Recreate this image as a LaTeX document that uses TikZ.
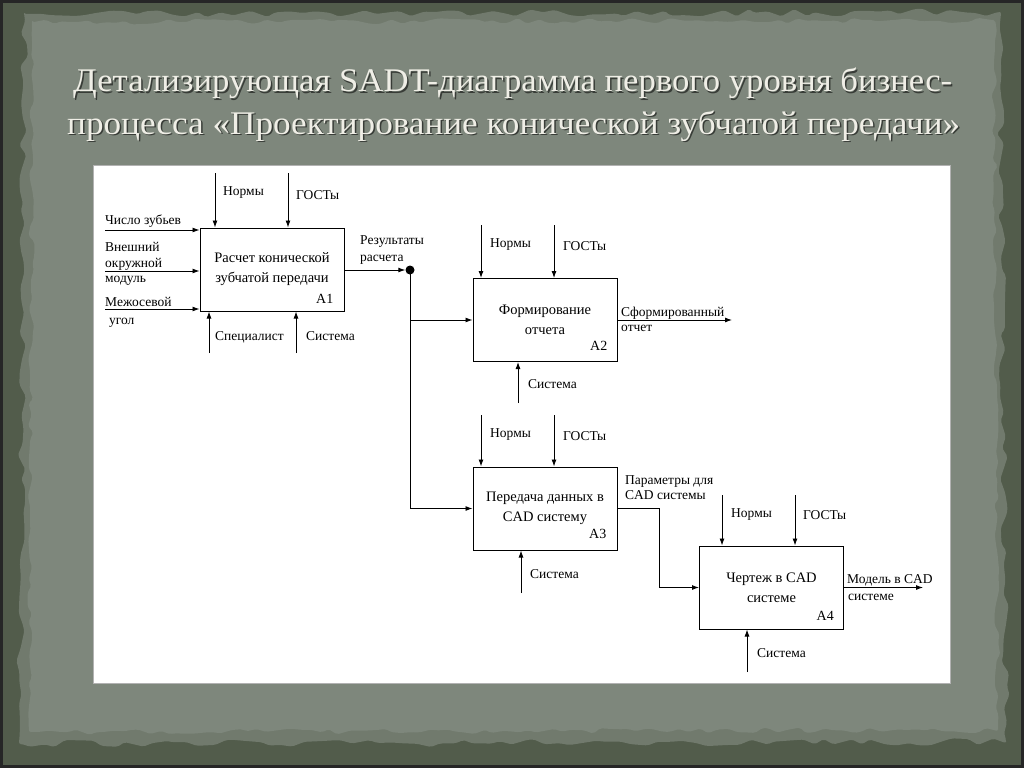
\documentclass[tikz,border=0pt]{standalone}
\usepackage{fontspec}
\setmainfont{Liberation Serif}
\usetikzlibrary{arrows.meta,calc,decorations.pathmorphing}
\definecolor{outerbg}{HTML}{525C4B}
\definecolor{innerbg}{HTML}{7E877C}
\definecolor{titlecol}{HTML}{EFEEE6}
\begin{document}
\begin{tikzpicture}[x=1pt,y=-1pt,
  box/.style={draw, line width=1pt, minimum width=144pt, minimum height=83pt, inner sep=0pt,
    font=\fontsize{14.5}{20}\selectfont, align=center},
  lbl/.style={anchor=base west, inner sep=0pt, font=\fontsize{13.5}{16}\selectfont},
  code/.style={anchor=base east, inner sep=0pt, font=\fontsize{14}{16}\selectfont},
  arr/.style={line width=0.9pt, -{Latex[length=7pt,width=5pt]}},
  ttl/.style={anchor=base west, inner sep=0pt, text=titlecol},
  shd/.style={anchor=base west, inner sep=0pt, text=black, opacity=0.55},
]
\useasboundingbox (0,0) rectangle (1024,768);
\pgfmathsetseed{11}
% background
\fill[outerbg] (0,0) rectangle (1024,768);
\fill[innerbg!70!outerbg, rounded corners=2pt, decorate, decoration={random steps, segment length=12pt, amplitude=4pt}]
  (24,14) -- (1000,12) -- (1006,742) -- (20,744) -- cycle;
\fill[innerbg, rounded corners=2pt, decorate, decoration={random steps, segment length=9pt, amplitude=3pt}]
  (32,22) -- (994,20) -- (998,730) -- (30,732) -- cycle;
\draw[black!85, line width=3pt] (1.5,1.5) rectangle (1022.5,766.5);
% title
\node[shd] at (74.5,93.5) {\resizebox{879pt}{\height}{\fontsize{33}{40}\selectfont Детализирующая SADT-диаграмма первого уровня бизнес-}};
\node[ttl] (t1) at (73,92) {\resizebox{879pt}{\height}{\fontsize{33}{40}\selectfont Детализирующая SADT-диаграмма первого уровня бизнес-}};
\node[shd] at (68.5,135.5) {\resizebox{893pt}{\height}{\fontsize{33}{40}\selectfont процесса «Проектирование конической зубчатой передачи»}};
\node[ttl] (t2) at (67,134) {\resizebox{893pt}{\height}{\fontsize{33}{40}\selectfont процесса «Проектирование конической зубчатой передачи»}};
% white panel
\fill[white] (93,165) rectangle (950,683);
\draw[gray!60, line width=0.6pt] (93,165) rectangle (950,683);
% boxes
\node[box] (A1) at (272,269.5) {Расчет конической\\зубчатой передачи};
\node[code] (A1c) at ($(A1.south east)+(-11,-8)$) {A1};
\node[box] (A2) at (545,320) {Формирование\\отчета};
\node[code] (A2c) at ($(A2.south east)+(-10,-12)$) {A2};
\node[box] (A3) at (545,508.5) {Передача данных в\\CAD систему};
\node[code] (A3c) at ($(A3.south east)+(-11,-12)$) {A3};
\node[box] (A4) at (771.5,587.5) {Чертеж в CAD\\системе};
\node[code] (A4c) at ($(A4.south east)+(-10,-9)$) {A4};
% A1 inputs
\coordinate (i1) at (105,230);
\coordinate (i2) at (105,271);
\coordinate (i3) at (105,309);
\draw[arr] (i1) -- (i1 -| A1.west);
\draw[arr] (i2) -- (i2 -| A1.west);
\draw[arr] (i3) -- (i3 -| A1.west);
\node[lbl] (l1) at (105,224) {Число зубьев};
\node[lbl] (l2) at (105,251) {Внешний};
\node[lbl] (l3) at (105,267) {окружной};
\node[lbl] (l4) at (105,282) {модуль};
\node[lbl] (l5) at (105,306) {Межосевой};
\node[lbl] (l6) at (109,324) {угол};
% A1 controls / mechanisms
\coordinate (c11) at (215,173);
\coordinate (c12) at (288,173);
\draw[arr] (c11) -- (c11 |- A1.north);
\draw[arr] (c12) -- (c12 |- A1.north);
\node[lbl] (n1) at (223,195) {Нормы};
\node[lbl] (g1) at (296,199) {ГОСТы};
\coordinate (m11) at (209,353);
\coordinate (m12) at (296,353);
\draw[arr] (m11) -- (m11 |- A1.south);
\draw[arr] (m12) -- (m12 |- A1.south);
\node[lbl] (s1) at (215,340) {Специалист};
\node[lbl] (s2) at (306,340) {Система};
% A1 output
\node[circle, fill, inner sep=0pt, minimum size=9pt] (dot) at (410,270) {};
\draw[arr] (A1.east |- dot) -- (dot);
\node[lbl] (r1) at (360,244) {Результаты};
\node[lbl] (r2) at (360,261) {расчета};
\draw[arr] (dot.center) |- (A3.west);
\draw[arr] (dot.center |- A2.west) -- (A2.west);
% A2
\coordinate (c21) at (481,225);
\coordinate (c22) at (554,225);
\draw[arr] (c21) -- (c21 |- A2.north);
\draw[arr] (c22) -- (c22 |- A2.north);
\node[lbl] (n2) at (490,247) {Нормы};
\node[lbl] (g2) at (563,250) {ГОСТы};
\coordinate (m2) at (518,403);
\draw[arr] (m2) -- (m2 |- A2.south);
\node[lbl] (s3) at (528,388) {Система};
\coordinate (o2) at (732,320);
\draw[arr] (A2.east) -- (o2);
\node[lbl] (f1) at (621,316) {Сформированный};
\node[lbl] (f2) at (621,331) {отчет};
% A3
\coordinate (c31) at (481,415);
\coordinate (c32) at (554,415);
\draw[arr] (c31) -- (c31 |- A3.north);
\draw[arr] (c32) -- (c32 |- A3.north);
\node[lbl] (n3) at (490,437) {Нормы};
\node[lbl] (g3) at (563,440) {ГОСТы};
\coordinate (m3) at (521,593);
\draw[arr] (m3) -- (m3 |- A3.south);
\node[lbl] (s4) at (530,578) {Система};
\draw[arr] (A3.east) -- ++(42,0) |- (A4.west);
\node[lbl] (p1) at (625,484) {Параметры для};
\node[lbl] (p2) at (625,499) {CAD системы};
% A4
\coordinate (c41) at (722,495);
\coordinate (c42) at (795,495);
\draw[arr] (c41) -- (c41 |- A4.north);
\draw[arr] (c42) -- (c42 |- A4.north);
\node[lbl] (n4) at (731,517) {Нормы};
\node[lbl] (g4) at (803,519) {ГОСТы};
\coordinate (m4) at (747,672);
\draw[arr] (m4) -- (m4 |- A4.south);
\node[lbl] (s5) at (757,657) {Система};
\coordinate (o4) at (923,587.5);
\draw[arr] (A4.east) -- (o4);
\node[lbl] (d1) at (847,583) {Модель в CAD};
\node[lbl] (d2) at (848,600) {системе};
\end{tikzpicture}
\end{document}
